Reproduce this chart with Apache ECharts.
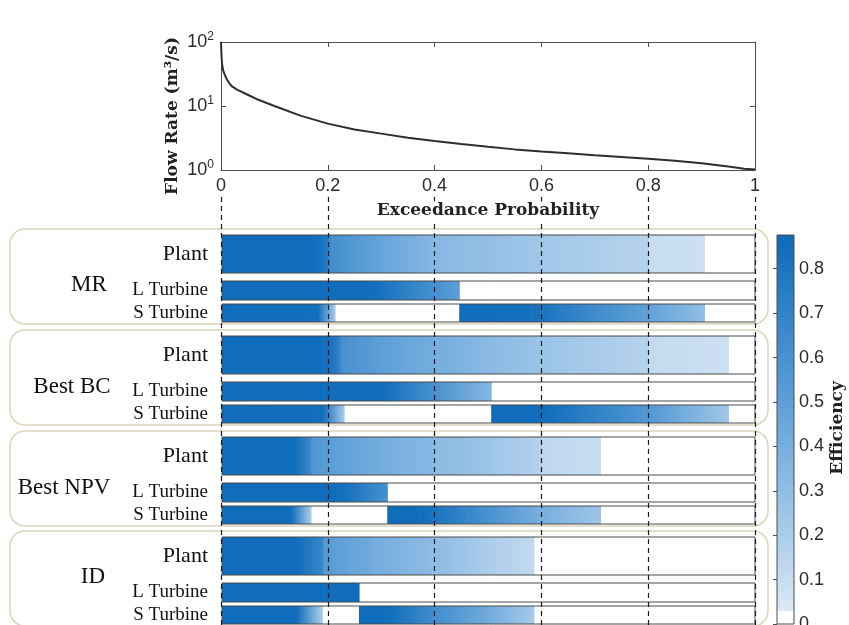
<!DOCTYPE html>
<html>
<head>
<meta charset="utf-8">
<script src="https://cdn.jsdelivr.net/npm/echarts@6/dist/echarts.min.js"></script>
<style>
  html, body { margin: 0; padding: 0; background: #ffffff; }
  #chart { width: 849px; height: 625px; }
</style>
</head>
<body>
<div id="chart"></div>
<script>
// ---- Flow duration curve ----
const exceedance = [0, 0.001, 0.002, 0.004, 0.007, 0.01, 0.015, 0.02, 0.03, 0.05, 0.07, 0.1, 0.15, 0.2, 0.25, 0.3, 0.35, 0.4, 0.45, 0.5, 0.55, 0.6, 0.65, 0.7, 0.75, 0.8, 0.85, 0.9, 0.95, 0.98, 1];
const flowRate = [100, 60, 45, 36, 31, 27, 23, 20.5, 18, 15, 12.5, 10, 7.0, 5.3, 4.3, 3.7, 3.2, 2.85, 2.55, 2.3, 2.1, 1.95, 1.82, 1.7, 1.6, 1.5, 1.4, 1.27, 1.13, 1.05, 1.02];
const probTicks = [0, 0.2, 0.4, 0.6, 0.8, 1];

// ---- Efficiency profiles along exceedance probability ----
// each row: list of operating runs, each run a list of [probability, efficiency] knots
const strategies = ['MR', 'Best BC', 'Best NPV', 'ID'];
const units = ['Plant', 'L Turbine', 'S Turbine'];

const mrPlant = [[[0, 0.86], [0.175, 0.86], [0.195, 0.78], [0.205, 0.62], [0.3, 0.46], [0.4, 0.34], [0.5, 0.29], [0.6, 0.24], [0.7, 0.2], [0.8, 0.16], [0.8, 0.1], [0.905, 0.08]]];
const mrLTurbine = [[[0, 0.86], [0.28, 0.86], [0.445, 0.5]]];
const mrSTurbine = [[[0, 0.86], [0.18, 0.85], [0.212, 0.2]], [[0.445, 0.86], [0.58, 0.84], [0.8, 0.48], [0.905, 0.3]]];

const bcPlant = [[[0, 0.86], [0.19, 0.86], [0.215, 0.75], [0.225, 0.6], [0.3, 0.5], [0.4, 0.41], [0.5, 0.33], [0.6, 0.26], [0.7, 0.21], [0.8, 0.16], [0.8, 0.12], [0.95, 0.08]]];
const bcLTurbine = [[[0, 0.86], [0.3, 0.86], [0.505, 0.34]]];
const bcSTurbine = [[[0, 0.86], [0.19, 0.85], [0.229, 0.2]], [[0.505, 0.86], [0.6, 0.86], [0.8, 0.55], [0.95, 0.24]]];

const npvPlant = [[[0, 0.86], [0.135, 0.86], [0.165, 0.66], [0.168, 0.56], [0.2, 0.51], [0.3, 0.41], [0.4, 0.33], [0.5, 0.25], [0.6, 0.17], [0.6, 0.13], [0.71, 0.1]]];
const npvLTurbine = [[[0, 0.86], [0.22, 0.86], [0.31, 0.6]]];
const npvSTurbine = [[[0, 0.86], [0.13, 0.86], [0.167, 0.18]], [[0.31, 0.86], [0.37, 0.86], [0.46, 0.68], [0.585, 0.42], [0.71, 0.25]]];

const idPlant = [[[0, 0.86], [0.14, 0.86], [0.19, 0.66], [0.19, 0.55], [0.2, 0.52], [0.3, 0.4], [0.4, 0.31], [0.5, 0.2], [0.585, 0.12]]];
const idLTurbine = [[[0, 0.86], [0.257, 0.86]]];
const idSTurbine = [[[0, 0.86], [0.14, 0.86], [0.188, 0.18]], [[0.257, 0.86], [0.31, 0.86], [0.4, 0.62], [0.5, 0.42], [0.585, 0.22]]];

const profiles = [
  [mrPlant, mrLTurbine, mrSTurbine],
  [bcPlant, bcLTurbine, bcSTurbine],
  [npvPlant, npvLTurbine, npvSTurbine],
  [idPlant, idLTurbine, idSTurbine]
];

// colour bar range and ticks
const effRange = [0, 0.876];
const effTickStep = 0.1;

// ---- colormap ----
const cmapPos = [0, 0.03, 0.03, 0.2, 0.5, 0.876];
const cmapCol = ['#ffffff', '#ffffff', '#dbe8f5', '#abcdeb', '#5d9fd8', '#0c6bba'];
function hexRgb(h) { return [parseInt(h.slice(1, 3), 16), parseInt(h.slice(3, 5), 16), parseInt(h.slice(5, 7), 16)]; }
function effColor(v) {
  if (v <= cmapPos[0]) return cmapCol[0];
  for (let i = 1; i < cmapPos.length; i++) {
    if (v <= cmapPos[i]) {
      const span = cmapPos[i] - cmapPos[i - 1];
      const t = span > 0 ? (v - cmapPos[i - 1]) / span : 1;
      const a = hexRgb(cmapCol[i - 1]), b = hexRgb(cmapCol[i]);
      const c = a.map((x, k) => Math.round(x + (b[k] - x) * t));
      return 'rgb(' + c.join(',') + ')';
    }
  }
  return cmapCol[cmapCol.length - 1];
}

// ---- layout ----
const plotLeft = 221, plotWidth = 534;
const groupTops = [229, 330, 431, 531];
const unitOffsets = [6, 52, 75];
const unitHeights = [38, 19, 18];
const groupLabelPos = [[89, 285], [72, 387], [64, 488], [93, 577]];
const serif = '"Liberation Serif", "Times New Roman", serif';
const boldSerif = '"DejaVu Serif", serif';
const sans = '"Liberation Sans", Arial, sans-serif';

const chart = echarts.init(document.getElementById('chart'), null, { renderer: 'canvas' });

const grids = [], xAxes = [], yAxes = [], series = [], graphics = [];

// grid 0: flow duration curve (box with axes on all four sides)
grids.push({ left: plotLeft, width: plotWidth, top: 42, height: 128, show: false, outerBoundsMode: 'none' });
const axisLineStyle = { color: '#4d4d4d', width: 1 };
xAxes.push({
  gridIndex: 0, type: 'value', min: 0, max: 1, interval: 0.2, position: 'bottom',
  axisLine: { show: true, onZero: false, lineStyle: axisLineStyle },
  axisTick: { show: true, inside: true, length: 5, lineStyle: axisLineStyle },
  axisLabel: { show: true, margin: 7, fontSize: 18, fontFamily: sans, color: '#2b2b2b',
    formatter: v => (probTicks.indexOf(v) >= 0 ? String(v) : '') },
  splitLine: { show: false }
});
xAxes.push({
  gridIndex: 0, type: 'value', min: 0, max: 1, interval: 0.2, position: 'top',
  axisLine: { show: true, onZero: false, lineStyle: axisLineStyle },
  axisTick: { show: true, inside: true, length: 5, lineStyle: axisLineStyle },
  axisLabel: { show: false }, splitLine: { show: false }
});
yAxes.push({
  gridIndex: 0, type: 'log', logBase: 10, min: 1, max: 100, position: 'left',
  axisLine: { show: true, onZero: false, lineStyle: axisLineStyle },
  axisTick: { show: true, inside: true, length: 5, lineStyle: axisLineStyle },
  axisLabel: {
    show: true, margin: 7,
    formatter: v => '{b|10}{s|' + Math.round(Math.log10(v)) + '}',
    rich: {
      b: { fontSize: 18, fontFamily: sans, color: '#2b2b2b' },
      s: { fontSize: 12, fontFamily: sans, color: '#2b2b2b', padding: [0, 0, 11, 0] }
    }
  },
  splitLine: { show: false }
});
yAxes.push({
  gridIndex: 0, type: 'log', logBase: 10, min: 1, max: 100, position: 'right',
  axisLine: { show: true, onZero: false, lineStyle: axisLineStyle },
  axisTick: { show: true, inside: true, length: 5, lineStyle: axisLineStyle },
  axisLabel: { show: false }, splitLine: { show: false }
});
series.push({
  type: 'line', xAxisIndex: 0, yAxisIndex: 0, showSymbol: false, smooth: false,
  data: exceedance.map((p, i) => [p, flowRate[i]]),
  lineStyle: { color: '#2e2e2e', width: 2 }, z: 3, silent: true
});

// grid 1: dashed guide lines at the probability ticks
grids.push({ left: plotLeft, width: plotWidth, top: 197, bottom: 0, show: false, outerBoundsMode: 'none' });
xAxes.push({
  gridIndex: 1, type: 'value', min: 0, max: 1, interval: 0.2, z: 10,
  axisLine: { show: false }, axisTick: { show: false }, axisLabel: { show: false },
  splitLine: { show: true, showMinLine: true, showMaxLine: true, lineStyle: { color: '#1a1a1a', width: 1.2, type: [5, 4] } }
});
yAxes.push({ gridIndex: 1, type: 'value', min: 0, max: 1, show: false });

// grid 2: colour bar
grids.push({ left: 777, width: 17, top: 235, height: 389, show: true, borderColor: '#4d4d4d', borderWidth: 1,
  backgroundColor: 'rgba(0,0,0,0)', z: 5, outerBoundsMode: 'none' });
const cbX = xAxes.length, cbY = yAxes.length;
xAxes.push({ gridIndex: 2, type: 'value', min: 0, max: 1, show: false });
yAxes.push({
  gridIndex: 2, type: 'value', min: effRange[0], max: effRange[1], interval: effTickStep, position: 'right',
  axisLine: { show: false },
  axisTick: { show: true, inside: true, length: 4, lineStyle: { color: '#4d4d4d' } },
  axisLabel: { show: true, showMaxLabel: false, margin: 5, fontSize: 18, fontFamily: sans, color: '#2b2b2b',
    formatter: v => (Math.round(v * 10) / 10).toString() },
  splitLine: { show: false }, z: 6
});
series.push({
  type: 'custom', xAxisIndex: cbX, yAxisIndex: cbY, silent: true, z: 2,
  data: [[0, effRange[0], 1, effRange[1]]],
  renderItem: function (params, api) {
    const lo = api.value(1), hi = api.value(3);
    const a = api.coord([api.value(0), lo]);
    const b = api.coord([api.value(2), hi]);
    const stops = [];
    for (let i = cmapPos.length - 1; i >= 0; i--) {
      stops.push({ offset: (hi - cmapPos[i]) / (hi - lo), color: cmapCol[i] });
    }
    return {
      type: 'rect',
      shape: { x: a[0], y: b[1], width: b[0] - a[0], height: a[1] - b[1] },
      style: { fill: new echarts.graphic.LinearGradient(0, 0, 0, 1, stops) }
    };
  }
});

// efficiency strips, one grid per unit row
function segmentsOf(runs) {
  const out = [];
  runs.forEach(run => {
    for (let i = 1; i < run.length; i++) {
      if (run[i][0] > run[i - 1][0]) out.push([run[i - 1][0], run[i - 1][1], run[i][0], run[i][1]]);
    }
  });
  return out;
}
function renderStrip(params, api) {
  const a = api.coord([api.value(0), 0]);
  const b = api.coord([api.value(2), 1]);
  return {
    type: 'rect',
    shape: { x: a[0], y: b[1], width: b[0] - a[0] + 0.6, height: a[1] - b[1] },
    style: {
      fill: new echarts.graphic.LinearGradient(0, 0, 1, 0, [
        { offset: 0, color: effColor(api.value(1)) },
        { offset: 1, color: effColor(api.value(3)) }
      ])
    }
  };
}
profiles.forEach((rows, g) => {
  rows.forEach((runs, u) => {
    const gi = grids.length;
    grids.push({
      left: plotLeft + 1, width: plotWidth - 1, top: groupTops[g] + unitOffsets[u], height: unitHeights[u],
      show: true, borderColor: '#4a4a4a', borderWidth: 1, backgroundColor: 'rgba(0,0,0,0)', z: 5, outerBoundsMode: 'none'
    });
    const xi = xAxes.length, yi = yAxes.length;
    xAxes.push({ gridIndex: gi, type: 'value', min: 0, max: 1, show: false });
    yAxes.push({ gridIndex: gi, type: 'value', min: 0, max: 1, show: false });
    series.push({
      type: 'custom', xAxisIndex: xi, yAxisIndex: yi, silent: true, z: 2,
      name: strategies[g] + ' ' + units[u],
      data: segmentsOf(runs), renderItem: renderStrip
    });
  });
});

// rounded group panels and labels
groupTops.forEach((top, g) => {
  graphics.push({
    type: 'rect', z: 0, silent: true,
    shape: { x: 10, y: top, width: 758, height: 95, r: 15 },
    style: { fill: '#ffffff', stroke: '#dcd5bc', lineWidth: 1.5 }
  });
  graphics.push({
    type: 'text', z: 20, silent: true, x: groupLabelPos[g][0], y: groupLabelPos[g][1],
    style: { text: strategies[g], font: '23px ' + serif, fill: '#111111', align: 'center', verticalAlign: 'middle' }
  });
  units.forEach((name, u) => {
    graphics.push({
      type: 'text', z: 20, silent: true, x: 208, y: top + unitOffsets[u] + unitHeights[u] / 2,
      style: { text: name, font: (u === 0 ? '22px ' : '19px ') + serif, fill: '#111111', align: 'right', verticalAlign: 'middle' }
    });
  });
});

// axis titles
graphics.push({
  type: 'text', z: 20, silent: true, x: 488, y: 211,
  style: { text: 'Exceedance Probability', font: 'bold 17px ' + boldSerif, fill: '#222222', align: 'center', verticalAlign: 'middle',
    backgroundColor: '#ffffff', padding: [1, 3] }
});
graphics.push({
  type: 'text', z: 20, silent: true, x: 173, y: 116, rotation: Math.PI / 2,
  style: { text: 'Flow Rate (m³/s)', font: 'bold 17px ' + boldSerif, fill: '#222222', align: 'center', verticalAlign: 'middle' }
});
graphics.push({
  type: 'text', z: 20, silent: true, x: 838, y: 428, rotation: Math.PI / 2,
  style: { text: 'Efficiency', font: 'bold 17px ' + boldSerif, fill: '#222222', align: 'center', verticalAlign: 'middle' }
});

chart.setOption({
  backgroundColor: '#ffffff',
  animation: false,
  grid: grids,
  xAxis: xAxes,
  yAxis: yAxes,
  series: series,
  graphic: { elements: graphics }
});
</script>
</body>
</html>
